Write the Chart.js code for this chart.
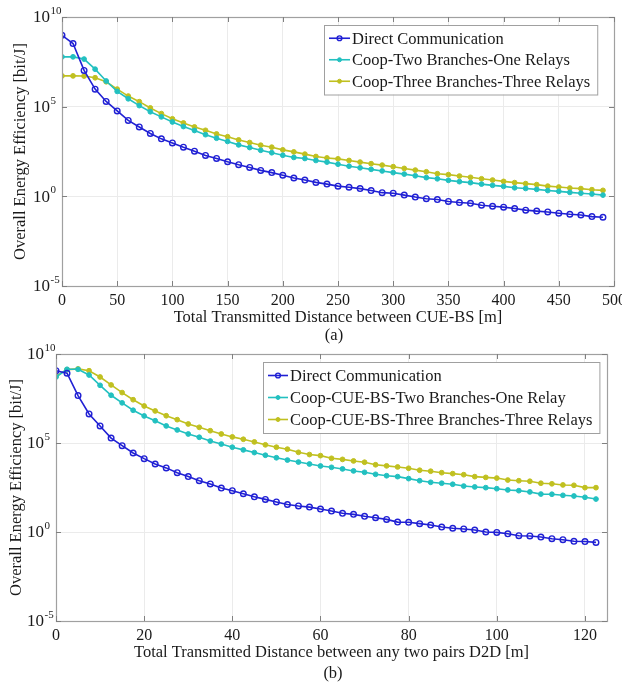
<!DOCTYPE html>
<html>
<head>
<meta charset="utf-8">
<script src="https://cdn.jsdelivr.net/npm/chart.js@4.4.1/dist/chart.umd.min.js"></script>
<style>
    html, body { margin: 0; padding: 0; background: #fff; }
    body { width: 622px; height: 684px; overflow: hidden; position: relative; font-family: "Liberation Serif", "Times New Roman", serif; }
    .panel { position: absolute; left: 0; width: 640px; }
    #panelA { top: 0; height: 330px; }
    #panelB { top: 337px; height: 328px; }
    .caption { position: absolute; width: 100px; text-align: center; font-size: 16.5px; color: #1a1a1a; line-height: 20px; }
</style>
</head>
<body>
<div class="panel" id="panelA"><canvas id="chartA" width="640" height="330"></canvas></div>
<div class="caption" style="left:284px; top:325px;">(a)</div>
<div class="panel" id="panelB"><canvas id="chartB" width="640" height="328"></canvas></div>
<div class="caption" style="left:283px; top:663px;">(b)</div>
<script>
// ---- data ----

// (a) distance between CUE and BS [m]
const distanceA = [0, 10, 20, 30, 40, 50, 60, 70, 80, 90, 100, 110, 120, 130, 140, 150, 160, 170, 180, 190,
    200, 210, 220, 230, 240, 250, 260, 270, 280, 290, 300, 310, 320, 330, 340, 350, 360, 370, 380, 390,
    400, 410, 420, 430, 440, 450, 460, 470, 480, 490];
const directA = [9.5e8, 3.3e8, 1.05e7, 9.5e5, 1.95e5, 5.8e4, 1.7e4, 7.4e3, 3.2e3, 1.6e3,
    950, 550, 330, 190, 130, 85, 58, 41, 28, 21,
    15, 10.5, 8.1, 6, 4.8, 3.7, 3.2, 2.7, 2.1, 1.6,
    1.5, 1.17, 0.91, 0.74, 0.66, 0.52, 0.45, 0.41, 0.32, 0.28,
    0.25, 0.21, 0.17, 0.15, 0.135, 0.115, 0.1, 0.091, 0.074, 0.068];
const twoBranchA = [6e7, 6e7, 4.5e7, 1.23e7, 2.7e6, 7.1e5, 2.75e5, 1.15e5, 5.2e4, 2.7e4,
    1.4e4, 7.8e3, 4.7e3, 2.75e3, 1.74e3, 1.15e3, 740, 525, 370, 270,
    195, 148, 129, 100, 81, 62, 48, 39, 32, 26,
    21, 17.4, 14, 11, 9.5, 7.8, 6.6, 5.8, 4.8, 4.1,
    3.6, 3, 2.75, 2.45, 2.1, 1.9, 1.66, 1.5, 1.35, 1.17];
const threeBranchA = [5.2e6, 5.2e6, 5.1e6, 4.1e6, 2.45e6, 9.5e5, 3.9e5, 1.9e5, 8.5e4, 4.1e4,
    2.1e4, 1.23e4, 7.4e3, 4.8e3, 3e3, 2.1e3, 1.4e3, 1e3, 710, 550,
    390, 300, 225, 166, 138, 123, 100, 81, 66, 55,
    45, 36, 29, 23.4, 18.2, 16.2, 13.5, 11.5, 9.5, 8.1,
    6.8, 5.8, 5.1, 4.5, 3.7, 3.3, 2.9, 2.7, 2.35, 2.15];

// (b) distance between any two D2D pairs [m]
const distanceB = [0, 2.5, 5, 7.5, 10, 12.5, 15, 17.5, 20, 22.5, 25, 27.5, 30, 32.5, 35, 37.5, 40, 42.5, 45, 47.5,
    50, 52.5, 55, 57.5, 60, 62.5, 65, 67.5, 70, 72.5, 75, 77.5, 80, 82.5, 85, 87.5, 90, 92.5, 95, 97.5,
    100, 102.5, 105, 107.5, 110, 112.5, 115, 117.5, 120, 122.5];
const directB = [1.15e9, 8.3e8, 4.6e7, 4.3e6, 9.1e5, 1.9e5, 7.1e4, 2.75e4, 1.32e4, 6.6e3,
    4e3, 2.15e3, 1.3e3, 760, 500, 295, 210, 141, 95, 68,
    49, 35, 29, 25, 19.5, 15, 11.2, 9.8, 7.6, 6.3,
    5.1, 3.6, 3.5, 2.95, 2.45, 1.9, 1.62, 1.48, 1.29, 1.0,
    0.95, 0.79, 0.62, 0.6, 0.52, 0.42, 0.37, 0.3, 0.29, 0.26];
const twoBranchB = [5.1e8, 1.38e9, 1.38e9, 6.6e8, 1.74e8, 4.8e7, 1.8e7, 6.9e6, 3.3e6, 1.78e6,
    9.1e5, 5.4e5, 3.2e5, 2.1e5, 1.29e5, 8.7e4, 5.8e4, 4.1e4, 2.9e4, 2.05e4,
    1.48e4, 1.1e4, 8.5e3, 6.6e3, 5.1e3, 4.3e3, 3.5e3, 2.7e3, 2.25e3, 1.74e3,
    1.45e3, 1.29e3, 1e3, 760, 620, 550, 480, 380, 340, 310,
    270, 230, 210, 178, 135, 132, 115, 105, 89, 71];
const threeBranchB = [5.6e8, 1.32e9, 1.45e9, 1.15e9, 5.1e8, 1.82e8, 6.8e7, 2.7e7, 1.2e7, 6.3e6,
    3.4e6, 2.05e6, 1.17e6, 7.6e5, 4.9e5, 3.2e5, 2.2e5, 1.62e5, 1.15e5, 7.9e4,
    5.8e4, 4.5e4, 3e4, 2.25e4, 1.95e4, 1.38e4, 1.2e4, 9.8e3, 8.3e3, 6e3,
    5.2e3, 4.5e3, 3.8e3, 2.95e3, 2.6e3, 2.15e3, 1.9e3, 1.66e3, 1.29e3, 1.17e3,
    1.07e3, 830, 760, 710, 550, 510, 440, 420, 310, 310];

// axis ticks
const yTickValues = [1e-5, 1, 1e5, 1e10];
const yTickExponents = ['-5', '0', '5', '10'];
const xTicksA = [0, 50, 100, 150, 200, 250, 300, 350, 400, 450, 500];
const xTicksB = [0, 20, 40, 60, 80, 100, 120];

const COLORS = {
    direct: '#2020d4',
    two: '#22c0c0',
    three: '#c0c020',
    text: '#1a1a1a',
    frame: '#a0a0a0',
    tick: '#808080',
    grid: '#ebebeb'
};
const FONT = '"Liberation Serif", "Times New Roman", serif';

function toPoints(xs, ys) {
    return xs.map((x, i) => ({ x: x, y: ys[i] }));
}

function makeDatasets(xs, series) {
    return series.map(s => ({
        label: s.label,
        data: toPoints(xs, s.values),
        borderColor: s.color,
        backgroundColor: s.color,
        borderWidth: 1.6,
        pointStyle: 'circle',
        pointRadius: s.open ? 2.8 : 2.4,
        pointBorderWidth: s.open ? 1.4 : 1,
        pointBackgroundColor: s.open ? 'rgba(0,0,0,0)' : s.color,
        pointBorderColor: s.color,
        tension: 0
    }));
}

// box round the plot area, with MATLAB style inner ticks
const framePlugin = {
    id: 'frame',
    afterDatasetsDraw(chart) {
        const { ctx, chartArea: a, scales } = chart;
        ctx.save();
        ctx.strokeStyle = COLORS.frame;
        ctx.lineWidth = 1.2;
        ctx.strokeRect(a.left + 0.5, a.top + 0.5, a.right - a.left, a.bottom - a.top);
        ctx.strokeStyle = COLORS.tick;
        ctx.lineWidth = 1;
        ctx.beginPath();
        scales.x.ticks.forEach(t => {
            const px = Math.round(scales.x.getPixelForValue(t.value)) + 0.5;
            ctx.moveTo(px, a.bottom); ctx.lineTo(px, a.bottom - 5);
            ctx.moveTo(px, a.top); ctx.lineTo(px, a.top + 5);
        });
        scales.y.ticks.forEach(t => {
            const py = Math.round(scales.y.getPixelForValue(t.value)) + 0.5;
            ctx.moveTo(a.left, py); ctx.lineTo(a.left + 5, py);
            ctx.moveTo(a.right, py); ctx.lineTo(a.right - 5, py);
        });
        ctx.stroke();
        ctx.restore();
    }
};

// 10^n labels on the log axis
const powerLabels = {
    id: 'powerLabels',
    afterDraw(chart) {
        const { ctx, chartArea: a, scales } = chart;
        ctx.save();
        ctx.fillStyle = COLORS.text;
        ctx.textBaseline = 'middle';
        scales.y.ticks.forEach((t, i) => {
            const py = scales.y.getPixelForValue(t.value);
            const baseX = a.left - 12;
            ctx.font = '17px ' + FONT;
            ctx.textAlign = 'right';
            ctx.fillText('10', baseX, py + 1);
            ctx.font = '11px ' + FONT;
            ctx.textAlign = 'left';
            ctx.fillText(yTickExponents[i], baseX + 0.5, py - 6);
        });
        ctx.restore();
    }
};

// legend drawn inside the axes, upper right
const insideLegend = {
    id: 'insideLegend',
    afterDraw(chart, args, opts) {
        const { ctx, chartArea: a } = chart;
        const sets = chart.data.datasets;
        ctx.save();
        ctx.font = '16.5px ' + FONT;
        const textW = Math.max(...sets.map(d => ctx.measureText(d.label).width));
        const boxW = 5 + opts.sample + 2 + textW + 7;
        const boxH = opts.rowHeight * sets.length + 5;
        const x0 = Math.round(a.right - opts.right - boxW);
        const y0 = Math.round(a.top + opts.top);
        ctx.fillStyle = '#fff';
        ctx.fillRect(x0, y0, boxW, boxH);
        ctx.strokeStyle = '#a0a0a0';
        ctx.lineWidth = 1;
        ctx.strokeRect(x0 + 0.5, y0 + 0.5, boxW, boxH);
        sets.forEach((d, i) => {
            const cy = y0 + 2.5 + opts.rowHeight * (i + 0.5);
            const sx = x0 + 5;
            ctx.strokeStyle = d.borderColor;
            ctx.lineWidth = d.borderWidth;
            ctx.beginPath();
            ctx.moveTo(sx, cy);
            ctx.lineTo(sx + opts.sample, cy);
            ctx.stroke();
            ctx.beginPath();
            ctx.arc(sx + opts.sample / 2, cy, d.pointRadius - 0.4, 0, Math.PI * 2);
            ctx.fillStyle = d.pointBackgroundColor;
            ctx.fill();
            ctx.lineWidth = d.pointBorderWidth;
            ctx.stroke();
            ctx.fillStyle = COLORS.text;
            ctx.textAlign = 'left';
            ctx.textBaseline = 'middle';
            ctx.fillText(d.label, sx + opts.sample + 2, cy + 1);
        });
        ctx.restore();
    }
};

function buildChart(canvasId, cfg) {
    const ctx = document.getElementById(canvasId).getContext('2d');
    return new Chart(ctx, {
        type: 'line',
        data: { datasets: cfg.datasets },
        options: {
            responsive: false,
            animation: false,
            layout: { padding: { left: 0, top: 17, right: cfg.padRight, bottom: 0 } },
            scales: {
                x: {
                    type: 'linear',
                    min: 0,
                    max: cfg.xMax,
                    afterBuildTicks: (scale) => { scale.ticks = cfg.xTicks.map(v => ({ value: v })); },
                    afterFit: (scale) => { scale.height = 44; },
                    grid: { color: COLORS.grid, drawTicks: false },
                    border: { display: false },
                    ticks: { color: COLORS.text, font: { family: FONT, size: 16 }, padding: 5, maxRotation: 0 },
                    title: {
                        display: true,
                        text: cfg.xTitle,
                        color: COLORS.text,
                        font: { family: FONT, size: 16.5 },
                        padding: { top: 0, bottom: 2 }
                    }
                },
                y: {
                    type: 'logarithmic',
                    min: 1e-5,
                    max: 1e10,
                    afterBuildTicks: (scale) => { scale.ticks = yTickValues.map(v => ({ value: v })); },
                    afterFit: (scale) => { scale.width = cfg.yWidth; },
                    grid: { color: COLORS.grid, drawTicks: false },
                    border: { display: false },
                    ticks: { display: false },
                    title: {
                        display: true,
                        text: 'Overall Energy Efficiency [bit/J]',
                        color: COLORS.text,
                        font: { family: FONT, size: 16.5 },
                        padding: { top: cfg.yTitlePad, bottom: 0 }
                    }
                }
            },
            plugins: {
                legend: { display: false },
                tooltip: { enabled: false },
                insideLegend: cfg.legend
            }
        },
        plugins: [framePlugin, powerLabels, insideLegend]
    });
}

buildChart('chartA', {
    datasets: makeDatasets(distanceA, [
        { label: 'Direct Communication', values: directA, color: COLORS.direct, open: true },
        { label: 'Coop-Two Branches-One Relays', values: twoBranchA, color: COLORS.two },
        { label: 'Coop-Three Branches-Three Relays', values: threeBranchA, color: COLORS.three }
    ]),
    xMax: 500,
    xTicks: xTicksA,
    xTitle: 'Total Transmitted Distance between CUE-BS [m]',
    padRight: 26,
    yWidth: 62,
    yTitlePad: 11,
    legend: { right: 17, top: 8, sample: 21, rowHeight: 21.5 }
});

buildChart('chartB', {
    datasets: makeDatasets(distanceB, [
        { label: 'Direct Communication', values: directB, color: COLORS.direct, open: true },
        { label: 'Coop-CUE-BS-Two Branches-One Relay', values: twoBranchB, color: COLORS.two },
        { label: 'Coop-CUE-BS-Three Branches-Three Relays', values: threeBranchB, color: COLORS.three }
    ]),
    xMax: 125,
    xTicks: xTicksB,
    xTitle: 'Total Transmitted Distance between any two pairs D2D [m]',
    padRight: 33,
    yWidth: 56,
    yTitlePad: 7,
    legend: { right: 8, top: 8, sample: 20, rowHeight: 22 }
});
</script>
</body>
</html>
